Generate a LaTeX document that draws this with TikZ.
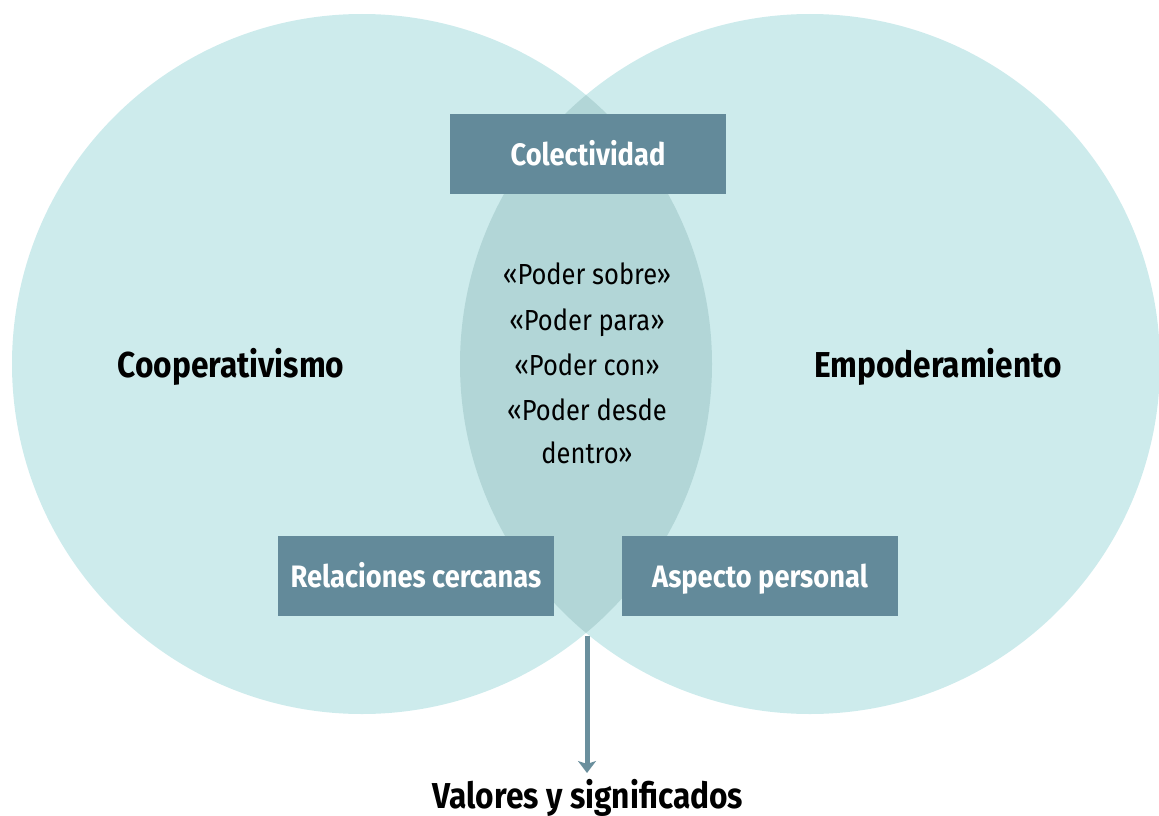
\documentclass[tikz,border=0pt]{standalone}
\usepackage{fontspec}
\setmainfont{Fira Sans}[FakeStretch=0.88]
\usetikzlibrary{arrows.meta}
\definecolor{circfill}{HTML}{CDEBEC}
\definecolor{lensfill}{HTML}{B2D6D7}
\definecolor{boxfill}{HTML}{638A9A}
\definecolor{arrowc}{HTML}{6A8F9D}
\tikzset{
  labelbox/.style={fill=boxfill, text=white, font=\bfseries\fontsize{31}{35}\selectfont,
    minimum width=276pt, minimum height=80pt, inner sep=0pt, anchor=center,
    text height=24pt, text depth=2pt},
  bigtitle/.style={text=black, font=\bfseries\fontsize{36}{40}\selectfont, inner sep=0pt},
  powertext/.style={text=black, font=\fontsize{29}{34}\selectfont, inner sep=0pt, anchor=base},
}
\begin{document}
\begin{tikzpicture}[x=1pt,y=-1pt]
\useasboundingbox (0,0) rectangle (1159,816);
% circles
\fill[circfill] (362,364) circle[radius=350];
\fill[circfill] (810,364) circle[radius=350];
\begin{scope}
  \clip (362,364) circle[radius=350];
  \fill[lensfill] (810,364) circle[radius=350];
\end{scope}
% boxes
\node[labelbox] (colec) at (588,154) {Colectividad};
\node[labelbox] (relac) at (416,576) {Relaciones cercanas};
\node[labelbox] (aspec) at (760,576) {Aspecto personal};
% centre text
\node[powertext] (p1) at (587,284) {«Poder sobre»};
\node[powertext] (p2) at (587,330) {«Poder para»};
\node[powertext] (p3) at (587,375) {«Poder con»};
\node[powertext] (p4) at (587,420) {«Poder desde};
\node[powertext] (p5) at (587,463) {dentro»};
% titles
\node[bigtitle, anchor=base] (coop) at (231,377) {Cooperativismo};
\node[bigtitle, anchor=base] (empo) at (938,377) {Empoderamiento};
\node[bigtitle, anchor=base] (valor) at (588,808) {Valores y significados};
% arrow
\coordinate (tip) at (587,636);
\coordinate (arrend) at (587,773);
\draw[arrowc, line width=5pt, -{Stealth[length=12pt,width=18pt,inset=3pt]}] (tip) -- (arrend);
\end{tikzpicture}
\end{document}
